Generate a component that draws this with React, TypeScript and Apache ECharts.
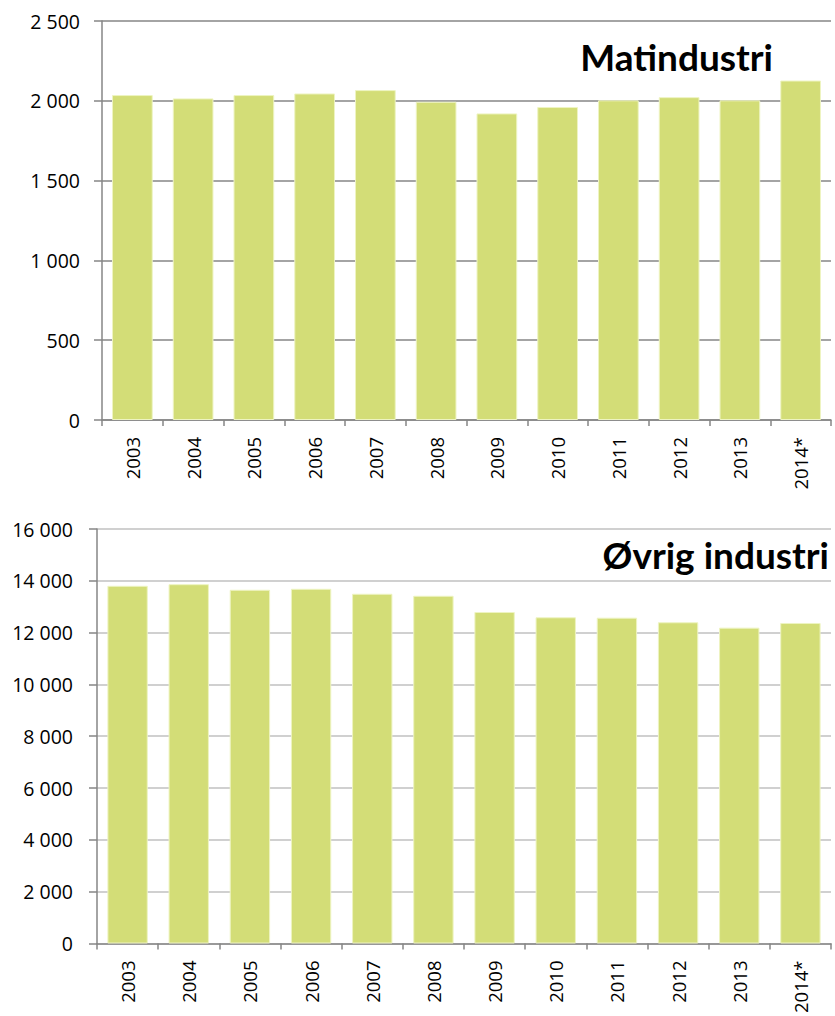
import React, { useEffect, useRef } from "react";
import * as echarts from "echarts";

const categories = ["2003", "2004", "2005", "2006", "2007", "2008", "2009", "2010", "2011", "2012", "2013", "2014*"];
const matValues = [2036, 2015, 2036, 2046, 2067, 1994, 1921, 1961, 2003, 2023, 2003, 2127];
const ovrigValues = [13808, 13870, 13654, 13692, 13500, 13423, 12796, 12592, 12577, 12400, 12192, 12373];
const matTitle = "Matindustri";
const ovrigTitle = "Øvrig industri";

const FONT = "'Open Sans', Lato, sans-serif";
const TFONT = "Lato, 'Open Sans', sans-serif";
const BAR = "#D3DD77";
const fmt = (v: number) => String(v).replace(/\B(?=(\d{3})+(?!\d))/g, " ");

export default function App() {
  const ref = useRef<HTMLDivElement>(null);
  useEffect(() => {
    if (!ref.current) return;
    const chart = echarts.init(ref.current, undefined, { renderer: "svg" });
    const xAxisBase = {
      type: "category" as const,
      data: categories,
      axisLine: { show: true, lineStyle: { color: "#868686", width: 1.5 } },
      axisTick: { show: true, alignWithLabel: false, length: 6, lineStyle: { color: "#868686", width: 1.5 } },
      axisLabel: { rotate: 90, margin: 17, color: "#000", fontSize: 18.5, fontFamily: FONT },
      splitLine: { show: false },
    };
    const yLabel = { color: "#000", fontSize: 19.5, fontFamily: FONT, formatter: fmt };
    const yLine = { show: true, lineStyle: { color: "#868686", width: 1.5 } };
    const yTick = { show: true, inside: false, length: 8, lineStyle: { color: "#868686", width: 1.5 } };
    chart.setOption({
      animation: false,
      backgroundColor: "#fff",
      grid: [
        { left: 102, top: 21, right: 4, height: 399 },
        { left: 97, top: 529, right: 4, height: 417 },
      ],
      xAxis: [
        { ...xAxisBase, gridIndex: 0 },
        { ...xAxisBase, gridIndex: 1 },
      ],
      yAxis: [
        {
          type: "value",
          gridIndex: 0,
          min: 0,
          max: 2500,
          interval: 500,
          axisLine: yLine,
          axisTick: yTick,
          axisLabel: { ...yLabel, margin: 22 },
          splitLine: { show: true, lineStyle: { color: "#868686", width: 1.5 } },
        },
        {
          type: "value",
          gridIndex: 1,
          min: 0,
          max: 16000,
          interval: 2000,
          axisLine: yLine,
          axisTick: yTick,
          axisLabel: { ...yLabel, margin: 24 },
          splitLine: { show: true, lineStyle: { color: "#C0C0C0", width: 1.5 } },
        },
      ],
      series: [
        {
          type: "bar",
          xAxisIndex: 0,
          yAxisIndex: 0,
          data: matValues,
          barWidth: "67%",
          itemStyle: { color: BAR, borderColor: "#EEF4C2", borderWidth: 1 },
        },
        {
          type: "bar",
          xAxisIndex: 1,
          yAxisIndex: 1,
          data: ovrigValues,
          barWidth: "66%",
          itemStyle: { color: BAR, borderColor: "#EEF4C2", borderWidth: 1 },
        },
      ],
      graphic: [
        {
          type: "text",
          right: 835 - 773,
          top: 38,
          style: { text: matTitle, font: `bold 37px ${TFONT}`, fill: "#000" },
        },
        {
          type: "text",
          right: 835 - 829,
          top: 536,
          style: { text: ovrigTitle, font: `bold 37px ${TFONT}`, fill: "#000" },
        },
      ],
    });
    return () => chart.dispose();
  }, []);
  return (
    <div
      ref={ref}
      style={{ position: "absolute", left: 0, top: 0, width: 835, height: 1016 }}
    />
  );
}
